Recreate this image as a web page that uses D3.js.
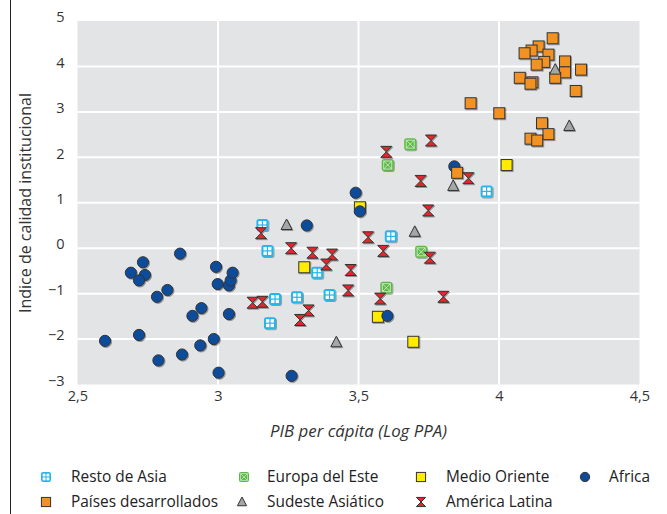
<!DOCTYPE html>
<html><head><meta charset="utf-8">
<script src="https://cdn.jsdelivr.net/npm/d3@7/dist/d3.min.js"></script>
<style>
html,body{margin:0;padding:0;background:#fff;}
svg{display:block;font-family:"Open Sans",sans-serif;}
</style></head>
<body>
<svg id="chart" width="667" height="514"></svg>
<script>
// ---- data ----
const restoAsia = [[3.158,0.51],[3.176,-0.06],[3.353,-0.54],[3.203,-1.12],[3.281,-1.08],[3.397,-1.03],[3.185,-1.65],[3.615,0.26],[3.956,1.25]];
const europaEste = [[3.684,2.29],[3.604,1.83],[3.723,-0.08],[3.599,-0.87]];
const medioOriente = [[3.505,0.90],[3.307,-0.42],[3.569,-1.51],[3.695,-2.06],[4.027,1.83]];
const africa = [[2.598,-2.04],[2.719,-1.91],[2.690,-0.54],[2.733,-0.31],[2.740,-0.59],[2.719,-0.71],[2.865,-0.12],[2.820,-0.92],[2.783,-1.07],[2.941,-1.32],[2.909,-1.49],[2.788,-2.47],[2.872,-2.34],[2.937,-2.14],[2.985,-2.00],[3.002,-2.74],[2.993,-0.41],[2.999,-0.79],[3.039,-0.82],[3.045,-0.71],[3.052,-0.54],[3.039,-1.45],[3.490,1.22],[3.505,0.81],[3.316,0.50],[3.262,-2.81],[3.603,-1.49],[3.841,1.80]];
const americaLatina = [[3.153,0.33],[3.260,0.00],[3.336,-0.10],[3.406,-0.14],[3.385,-0.36],[3.472,-0.48],[3.534,0.24],[3.588,-0.06],[3.748,0.83],[3.754,-0.21],[3.463,-0.93],[3.577,-1.11],[3.802,-1.07],[3.123,-1.20],[3.158,-1.18],[3.322,-1.37],[3.292,-1.58],[3.721,1.48],[3.758,2.37],[3.599,2.12],[3.891,1.54]];
const paisesDesarrollados = [[3.851,1.66],[3.899,3.19],[4.001,2.97],[4.191,4.62],[4.141,4.44],[4.116,4.35],[4.091,4.29],[4.176,4.26],[4.161,4.10],[4.134,4.04],[4.235,4.11],[4.292,3.93],[4.235,3.87],[4.200,3.75],[4.074,3.75],[4.119,3.65],[4.112,3.62],[4.273,3.46],[4.153,2.75],[4.176,2.51],[4.112,2.41],[4.136,2.37]];
const sudesteAsiatico = [[3.244,0.51],[3.700,0.36],[3.421,-2.07],[3.837,1.37],[4.200,3.93],[4.250,2.69]];
const xTicks = [2.5,3,3.5,4,4.5];
const yTicks = [-3,-2,-1,0,1,2,3,4,5];
const seriesNames = ["Resto de Asia","Europa del Este","Medio Oriente","Africa","Países desarrollados","Sudeste Asiático","América Latina"];
const xTitle = "PIB per cápita (Log PPA)";
const yTitle = "Indice de calidad institucional";

// ---- layout ----
const svg = d3.select("#chart");
const L = 77.5, R = 639.5, T = 21, B = 384.5;
const x = d3.scaleLinear().domain([2.5,4.5]).range([L,R]);
const y = d3.scaleLinear().domain([-3,5]).range([B,T]);
const loc = d3.formatLocale({decimal:",",thousands:".",grouping:[3],currency:["",""]});
const fmt = v => loc.format("~g")(v);

const defs = svg.append("defs");
const f = defs.append("filter").attr("id","sh").attr("x","-50%").attr("y","-50%").attr("width","200%").attr("height","200%");
f.append("feDropShadow").attr("dx",1).attr("dy",1).attr("stdDeviation",0.7).attr("flood-color","#000").attr("flood-opacity",0.35);

// left frame line
svg.append("line").attr("x1",10.5).attr("x2",10.5).attr("y1",0).attr("y2",514).attr("stroke","#222").attr("stroke-width",1);

// plot background
svg.append("rect").attr("x",L).attr("y",T).attr("width",R-L).attr("height",B-T).attr("fill","#e3e4e6");
// grid
const g = svg.append("g");
g.selectAll(".vg").data(xTicks.slice(1,-1)).join("line")
  .attr("x1",d=>x(d)).attr("x2",d=>x(d)).attr("y1",T).attr("y2",B).attr("stroke","#fff").attr("stroke-width",2);
g.selectAll(".hg").data(yTicks.slice(1,-1)).join("line")
  .attr("x1",L).attr("x2",R).attr("y1",d=>y(d)).attr("y2",d=>y(d)).attr("stroke","#fff").attr("stroke-width",2);

// axes
const ax = svg.append("g").attr("transform",`translate(0,${B})`)
  .call(d3.axisBottom(x).tickValues(xTicks).tickFormat(fmt).tickSize(0).tickPadding(6));
ax.select(".domain").remove();
ax.selectAll("text").attr("font-size",14.5).attr("fill","#333").attr("font-family","Open Sans");
const ay = svg.append("g").attr("transform",`translate(${L},0)`)
  .call(d3.axisLeft(y).tickValues(yTicks).tickFormat(fmt).tickSize(0).tickPadding(13));
ay.select(".domain").remove();
ay.selectAll("text").attr("font-size",14.5).attr("fill","#333").attr("font-family","Open Sans").attr("dy","0.05em");

svg.append("text").attr("x",(L+R)/2).attr("y",437).attr("text-anchor","middle")
  .attr("font-size",16).attr("font-style","italic").attr("fill","#333")
  .attr("textLength",177).attr("lengthAdjust","spacingAndGlyphs").text(xTitle);
svg.append("text").attr("transform",`translate(31,203) rotate(-90)`).attr("text-anchor","middle")
  .attr("font-size",15.5).attr("fill","#333")
  .attr("textLength",220).attr("lengthAdjust","spacingAndGlyphs").text(yTitle);

// markers
const STK = "#333";
function drawMarker(sel, type, s){
  const k = s/12;
  if(type===0){ // resto de asia
    sel.append("rect").attr("x",-6*k).attr("y",-6*k).attr("width",12*k).attr("height",12*k).attr("rx",2.5*k).attr("fill","#25b5ea");
    [[-4,-4],[0.6,-4],[-4,0.6],[0.6,0.6]].forEach(p=>sel.append("rect").attr("x",p[0]*k).attr("y",p[1]*k).attr("width",3.4*k).attr("height",3.4*k).attr("fill","#fff"));
  } else if(type===1){ // europa
    sel.append("rect").attr("x",-6*k).attr("y",-6*k).attr("width",12*k).attr("height",12*k).attr("rx",2.5*k).attr("fill","#5cb946");
    sel.append("rect").attr("x",-4*k).attr("y",-4*k).attr("width",8*k).attr("height",8*k).attr("fill","none").attr("stroke","#cfeac8").attr("stroke-width",0.9*k);
    sel.append("path").attr("d",`M${-4*k},${-4*k}L${4*k},${4*k}M${4*k},${-4*k}L${-4*k},${4*k}`).attr("stroke","#cfeac8").attr("stroke-width",0.9*k);
  } else if(type===2){ // medio oriente
    sel.append("rect").attr("x",-5.5*k).attr("y",-5.5*k).attr("width",11*k).attr("height",11*k).attr("fill","#ffec00").attr("stroke",STK).attr("stroke-width",1);
  } else if(type===3){ // africa
    sel.append("circle").attr("r",5.6*k).attr("fill","#0e4b9b").attr("stroke",STK).attr("stroke-width",1);
  } else if(type===4){ // paises desarrollados
    sel.append("rect").attr("x",-5.5*k).attr("y",-5.5*k).attr("width",11*k).attr("height",11*k).attr("fill","#f29223").attr("stroke",STK).attr("stroke-width",1);
  } else if(type===5){ // sudeste
    sel.append("path").attr("d",`M0,${-6*k}L${5.5*k},${4.5*k}L${-5.5*k},${4.5*k}Z`).attr("fill","#a6a6a6").attr("stroke",STK).attr("stroke-width",1);
  } else { // america latina
    sel.append("path").attr("d",`M${-5.5*k},${-5.5*k}L${5.5*k},${-5.5*k}L0,0ZM${-5.5*k},${5.5*k}L${5.5*k},${5.5*k}L0,0Z`).attr("fill","#e5252b").attr("stroke",STK).attr("stroke-width",1).attr("stroke-linejoin","round");
  }
}
const seriesData = [restoAsia,europaEste,medioOriente,africa,paisesDesarrollados,sudesteAsiatico,americaLatina];
const drawOrder = [0,1,2,3,6,4,5];
const pts = svg.append("g").attr("filter","url(#sh)");
drawOrder.forEach(i=>{
  seriesData[i].forEach(d=>{
    const m = pts.append("g").attr("transform",`translate(${x(d[0])},${y(d[1])})`);
    drawMarker(m,i,12);
  });
});

// legend
const legPos = [[46,71,477],[244,267,477],[421,446,477],[585,609,477],[46,71,502],[242,267,502],[421,446,502]];
seriesNames.forEach((n,i)=>{
  const p = legPos[i];
  const m = svg.append("g").attr("transform",`translate(${p[0]},${p[2]})`);
  drawMarker(m,i,10);
  svg.append("text").attr("x",p[1]).attr("y",p[2]).attr("dy","0.35em").attr("font-size",15.4).attr("fill","#222").text(n);
});
</script>
</body></html>
